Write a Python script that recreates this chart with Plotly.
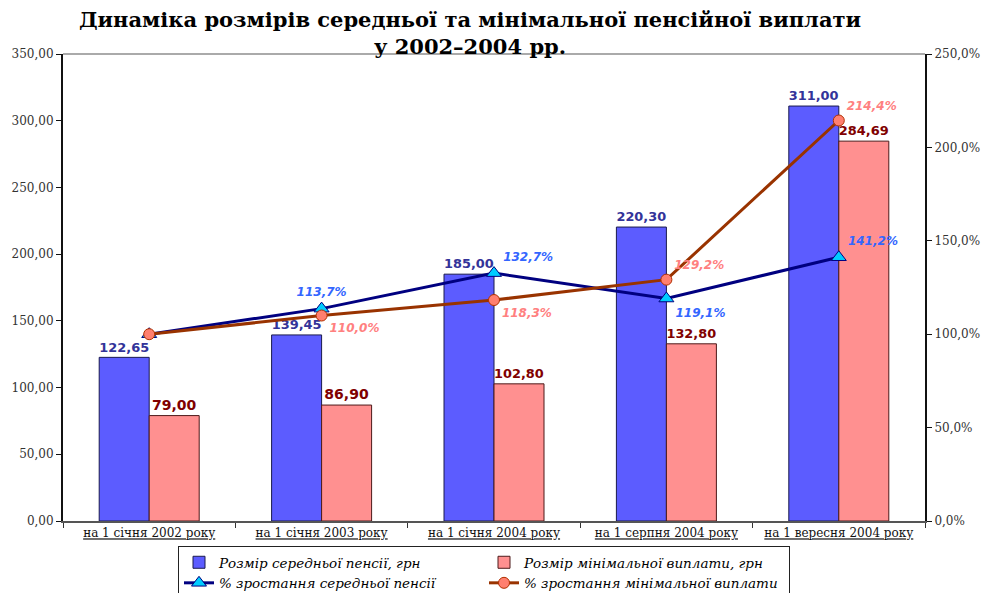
import plotly.graph_objects as go

categories = ["на 1 січня 2002 року", "на 1 січня 2003 року", "на 1 січня 2004 року",
              "на 1 серпня 2004 року", "на 1 вересня 2004 року"]
avg_pension = [122.65, 139.45, 185.00, 220.30, 311.00]
min_payment = [79.00, 86.90, 102.80, 132.80, 284.69]
avg_growth = [1.000, 1.137, 1.327, 1.191, 1.412]
min_growth = [1.000, 1.100, 1.183, 1.292, 2.144]
avg_growth_text = ["", "113,7%", "132,7%", "119,1%", "141,2%"]
min_growth_text = ["", "110,0%", "118,3%", "129,2%", "214,4%"]
avg_text_pos = ["top right", "top center", "top right", "bottom right", "top right"]
min_text_pos = ["top right", "bottom right", "bottom right", "top right", "top right"]

fig = go.Figure()

fig.add_trace(go.Bar(
    x=categories, y=avg_pension, name="Розмір середньої пенсії, грн",
    marker=dict(color="#5c5cff", line=dict(color="#1a1a4d", width=1)),
    texttemplate="%{y:.2f}", textposition="outside",
    textfont=dict(family="DejaVu Sans", size=14, color="#333399", weight="bold"),
    cliponaxis=False, yaxis="y",
))
fig.add_trace(go.Bar(
    x=categories, y=min_payment, name="Розмір мінімальної виплати, грн",
    marker=dict(color="#ff9090", line=dict(color="#4d1a1a", width=1)),
    texttemplate="%{y:.2f}", textposition="outside",
    textfont=dict(family="DejaVu Sans", size=14, color="#800000", weight="bold"),
    cliponaxis=False, yaxis="y",
))
fig.add_trace(go.Scatter(
    x=categories, y=avg_growth, name="% зростання середньої пенсії",
    mode="lines+markers+text", yaxis="y2",
    line=dict(color="#000080", width=3),
    marker=dict(symbol="triangle-up", size=13, color="#00ccff", line=dict(color="#000080", width=1)),
    text=avg_growth_text, textposition=avg_text_pos,
    textfont=dict(family="DejaVu Sans", size=12, color="#3366ff", weight="bold", style="italic"),
    cliponaxis=False,
))
fig.add_trace(go.Scatter(
    x=categories, y=min_growth, name="% зростання мінімальної виплати",
    mode="lines+markers+text", yaxis="y2",
    line=dict(color="#993300", width=3),
    marker=dict(symbol="circle", size=11, color="#ff7f6f", line=dict(color="#b03000", width=1)),
    text=min_growth_text, textposition=min_text_pos,
    textfont=dict(family="DejaVu Sans", size=12, color="#ff8080", weight="bold", style="italic"),
    cliponaxis=False,
))

fig.update_layout(
    width=983, height=593,
    margin=dict(l=63, r=58, t=54, b=72, autoexpand=False),
    paper_bgcolor="white", plot_bgcolor="white",
    separators=",.",
    barmode="group", bargap=0.42, bargroupgap=0,
    title=dict(
        text="Динаміка розмірів середньої та мінімальної пенсійної виплати<br>у 2002–2004 рр.",
        x=470/983, xanchor="center", y=1 - 27/593, yanchor="middle",
        font=dict(family="DejaVu Serif", size=21, color="black", weight="bold"),
    ),
    xaxis=dict(
        type="category", tickson="boundaries", ticks="outside", ticklen=5,
        tickcolor="#333", showline=True, linecolor="#555", linewidth=2,
        tickfont=dict(family="DejaVu Serif", size=12, color="#111", lineposition="under"),
        showgrid=False,
    ),
    yaxis=dict(
        range=[0, 350], dtick=50, tickformat=".2f", ticks="outside", ticklen=5,
        tickcolor="#111", showline=True, linecolor="#111", linewidth=2,
        tickfont=dict(family="DejaVu Serif", size=12, color="#333"),
        showgrid=False, zeroline=False,
    ),
    yaxis2=dict(
        range=[0, 2.5], dtick=0.5, tickformat=".1%", overlaying="y", side="right",
        ticks="outside", ticklen=5, tickcolor="#111", showline=True, linecolor="#111", linewidth=2,
        tickfont=dict(family="DejaVu Serif", size=12, color="#333"),
        showgrid=False, zeroline=False,
    ),
    legend=dict(
        orientation="h", x=(178-63)/862, xanchor="left", y=(521-546)/467, yanchor="top",
        entrywidth=260, entrywidthmode="pixels",
        bordercolor="#222", borderwidth=1, bgcolor="white",
        font=dict(family="DejaVu Serif", size=13.5, color="black", style="italic"),
        tracegroupgap=0,
    ),
    shapes=[dict(type="line", xref="paper", yref="paper", x0=0, x1=1, y0=1, y1=1,
                 line=dict(color="#aaaaaa", width=2))],
)

fig.write_html("out.html", config={"displayModeBar": False},
               post_script="document.body.style.margin='0';document.body.style.overflow='hidden';")
